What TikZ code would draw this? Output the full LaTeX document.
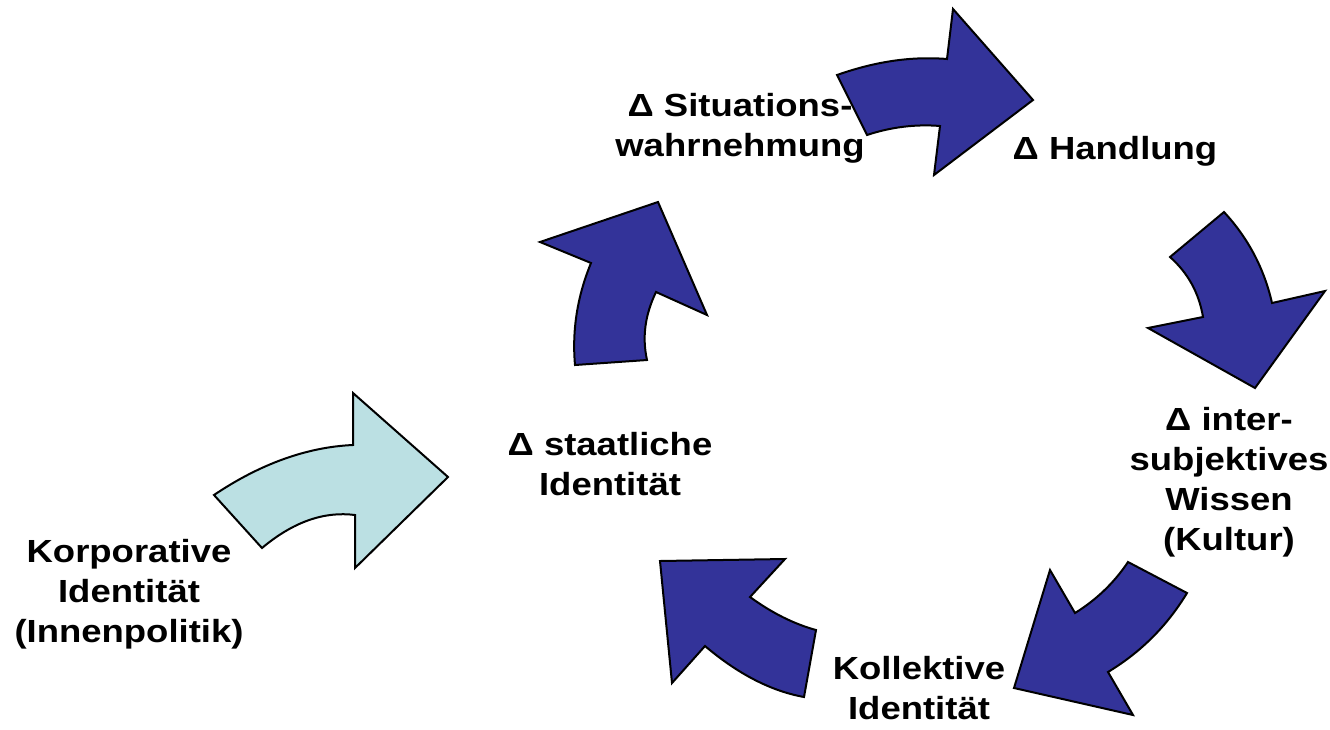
\documentclass[tikz,border=0pt]{standalone}
\usepackage{fontspec}
\setmainfont{Liberation Sans}[FakeStretch=1.14]
\usepackage{xcolor}
\usepackage{tikz}

\definecolor{cycleblue}{HTML}{333399}
\definecolor{inputcyan}{HTML}{BBE0E3}

\begin{document}
\begin{tikzpicture}[x=1pt, y=-1pt,
		lbl/.style={align=center, font=\fontsize{32}{40}\selectfont\bfseries},
		blockarrow/.style={draw=black, line width=2pt, fill=cycleblue}]
		\useasboundingbox (0,0) rectangle (1330,729);
		
		% Nodes
		\node[lbl] (korp) at (129,594) {Korporative\\Identität\\(Innenpolitik)};
		\node[lbl] (staat) at (610,464) {Δ staatliche\\Identität};
		\node[lbl] (sit) at (740,128) {Δ Situations-\\wahrnehmung};
		\node[lbl] (hand) at (1115,151) {Δ Handlung};
		\node[lbl] (wiss) at (1229,482) {Δ inter-\\subjektives\\Wissen\\(Kultur)};
		\node[lbl] (koll) at (919,688) {Kollektive\\Identität};
		
		% Arrows
		\draw[blockarrow, fill=inputcyan] (214,495)
			.. controls (260,464) and (307,447) .. (353,445)
			-- (353,393) -- (448,477) -- (355,568) -- (355,515)
			.. controls (324,511) and (293,522) .. (262,548) -- cycle;
		\draw[blockarrow] (575,365) -- (647,360)
			.. controls (642,337) and (645,315) .. (656,292)
			-- (707,315) -- (658,202) -- (540,242) -- (591,263)
			.. controls (577,297) and (572,331) .. cycle;
		\draw[blockarrow] (837,75) -- (867,135)
			.. controls (891,127) and (916,124) .. (940,126)
			-- (934,175) -- (1033,100) -- (953,9) -- (947,59)
			.. controls (910,56) and (874,62) .. cycle;
		\draw[blockarrow] (1170,257) -- (1224,212)
			.. controls (1248,238) and (1264,268) .. (1272,303)
			-- (1325,291) -- (1255,388) -- (1148,328) -- (1203,317)
			.. controls (1199,293) and (1188,273) .. cycle;
		\draw[blockarrow] (1128,562) -- (1187,593)
			.. controls (1167,626) and (1141,652) .. (1108,672)
			-- (1133,715) -- (1014,688) -- (1050,570) -- (1075,613)
			.. controls (1096,600) and (1114,583) .. cycle;
		\draw[blockarrow] (816,630) -- (804,697)
			.. controls (771,691) and (738,674) .. (705,646)
			-- (672,683) -- (660,561) -- (785,559) -- (750,597)
			.. controls (772,613) and (794,624) .. cycle;
		
	\end{tikzpicture}
\end{document}
